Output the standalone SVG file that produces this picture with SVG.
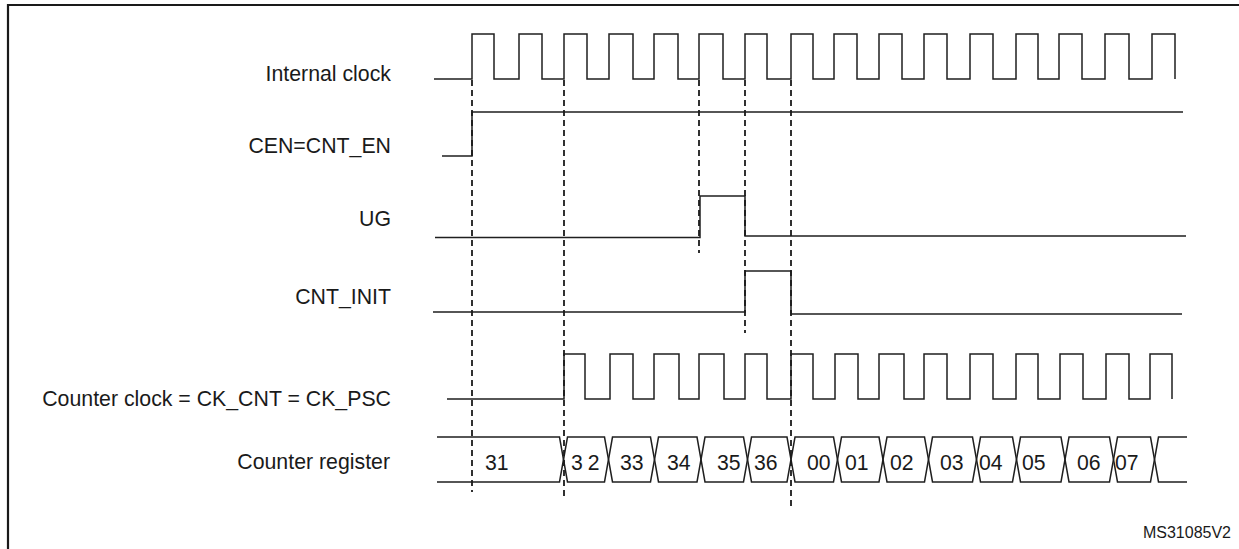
<svg xmlns="http://www.w3.org/2000/svg" width="1239" height="549" viewBox="0 0 1239 549">
<style>
.lbl{font-family:"Liberation Sans",Arial,sans-serif;font-size:21.3px;fill:#1a1a1a}
.val{font-family:"Liberation Sans",Arial,sans-serif;font-size:21.2px;fill:#1a1a1a}
.sig{fill:none;stroke:#1f1f1f;stroke-width:1.5}
.dash{fill:none;stroke:#1a1a1a;stroke-width:1.8;stroke-dasharray:6 4}
.frame{fill:none;stroke:#1a1a1a;stroke-width:2.2}
</style>
<rect width="1239" height="549" fill="#ffffff"/>
<path class="frame" d="M8,549 V5 H1239"/>
<g id="internal-clock">
<text class="lbl" x="391" y="81" text-anchor="end">Internal clock</text>
<path class="sig" d="M434,79 H472 V34 H494 V79 H519 V34 H542 V79 H564 V34 H587 V79 H609 V34 H633 V79 H654 V34 H678 V79 H699 V34 H723 V79 H745 V34 H767 V79 H791 V34 H813 V79 H834 V34 H857 V79 H879 V34 H902 V79 H924 V34 H947 V79 H970 V34 H993 V79 H1016 V34 H1038 V79 H1059 V34 H1082 V79 H1105 V34 H1129 V79 H1152 V34 H1175 V79"/>
</g>
<g id="cen">
<text class="lbl" x="391" y="153" text-anchor="end">CEN=CNT_EN</text>
<path class="sig" d="M442,156 H472 V112 H1183"/>
</g>
<g id="ug">
<text class="lbl" x="391" y="226" text-anchor="end">UG</text>
<path class="sig" d="M435,237.5 H700 V196 H745 V236 H1186"/>
</g>
<g id="cnt-init">
<text class="lbl" x="391" y="304" text-anchor="end">CNT_INIT</text>
<path class="sig" d="M433,312 H745 V271 H791 V314 H1182"/>
</g>
<g id="counter-clock">
<text class="lbl" x="391" y="406" text-anchor="end">Counter clock = CK_CNT = CK_PSC</text>
<path class="sig" d="M447,399 H564 V354 H585 V399 H610 V354 H633 V399 H654 V354 H679 V399 H699 V354 H724 V399 H745 V354 H767 V399 H791 V354 H813 V399 H835 V354 H858 V399 H879 V354 H904 V399 H924 V354 H947 V399 H970 V354 H993 V399 H1016 V354 H1038 V399 H1060 V354 H1083 V399 H1106 V354 H1129 V399 H1150 V354 H1172 V399"/>
</g>
<g id="counter-register">
<text class="lbl" x="390" y="469" text-anchor="end">Counter register</text>
<path class="sig" d="M437,437 H559.5 L563.5,459.5 L559.5,482 H437"/>
<path class="sig" d="M567.5,437 H604.5 L608.5,459.5 L604.5,482 H567.5 L563.5,459.5 Z"/>
<path class="sig" d="M612.5,437 H650.5 L654.5,459.5 L650.5,482 H612.5 L608.5,459.5 Z"/>
<path class="sig" d="M658.5,437 H697 L701,459.5 L697,482 H658.5 L654.5,459.5 Z"/>
<path class="sig" d="M705,437 H743.5 L747.5,459.5 L743.5,482 H705 L701,459.5 Z"/>
<path class="sig" d="M751.5,437 H787 L791,459.5 L787,482 H751.5 L747.5,459.5 Z"/>
<path class="sig" d="M795,437 H833.5 L837.5,459.5 L833.5,482 H795 L791,459.5 Z"/>
<path class="sig" d="M841.5,437 H879 L883,459.5 L879,482 H841.5 L837.5,459.5 Z"/>
<path class="sig" d="M887,437 H924.5 L928.5,459.5 L924.5,482 H887 L883,459.5 Z"/>
<path class="sig" d="M932.5,437 H972.5 L976.5,459.5 L972.5,482 H932.5 L928.5,459.5 Z"/>
<path class="sig" d="M980.5,437 H1012.5 L1016.5,459.5 L1012.5,482 H980.5 L976.5,459.5 Z"/>
<path class="sig" d="M1020.5,437 H1061 L1065,459.5 L1061,482 H1020.5 L1016.5,459.5 Z"/>
<path class="sig" d="M1069,437 H1109.5 L1113.5,459.5 L1109.5,482 H1069 L1065,459.5 Z"/>
<path class="sig" d="M1117.5,437 H1150.5 L1154.5,459.5 L1150.5,482 H1117.5 L1113.5,459.5 Z"/>
<path class="sig" d="M1187,437 H1158.5 L1154.5,459.5 L1158.5,482 H1187"/>
<text class="val" x="485" y="470">31</text>
<text class="val" x="571" y="470" letter-spacing="5">32</text>
<text class="val" x="620" y="470">33</text>
<text class="val" x="667" y="470">34</text>
<text class="val" x="717" y="470">35</text>
<text class="val" x="754" y="470">36</text>
<text class="val" x="807" y="470">00</text>
<text class="val" x="845" y="470">01</text>
<text class="val" x="890" y="470">02</text>
<text class="val" x="940" y="470">03</text>
<text class="val" x="979" y="470">04</text>
<text class="val" x="1022" y="470">05</text>
<text class="val" x="1077" y="470">06</text>
<text class="val" x="1115" y="470">07</text>
</g>
<g id="connectors">
<line class="dash" x1="472" y1="80" x2="472" y2="492"/>
<line class="dash" x1="564" y1="80" x2="564" y2="500"/>
<line class="dash" x1="699" y1="80" x2="699" y2="253"/>
<line class="dash" x1="745" y1="80" x2="745" y2="333"/>
<line class="dash" x1="791" y1="80" x2="791" y2="510"/>
</g>
<text x="1231" y="538" text-anchor="end" style="font-family:'Liberation Sans',Arial,sans-serif;font-size:16px;fill:#1a1a1a">MS31085V2</text>
</svg>
